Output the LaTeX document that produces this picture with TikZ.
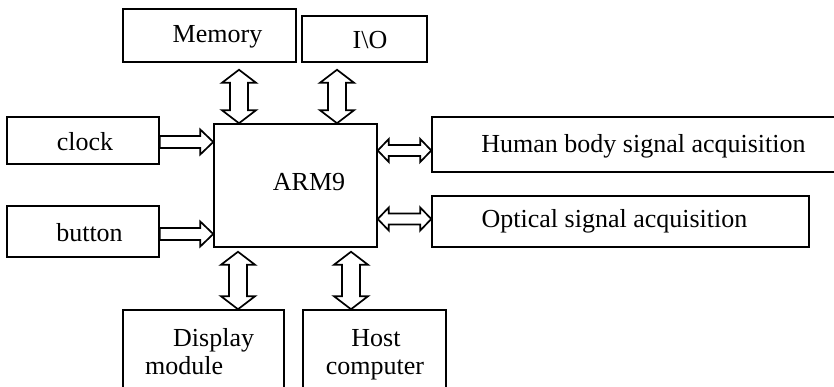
\documentclass[tikz,border=0pt]{standalone}
\usepackage{fontspec}
\setmainfont{Liberation Serif}
\usetikzlibrary{calc}
\tikzset{
  box/.style={draw, line width=1.5pt, rectangle, inner sep=0pt},
  lbl/.style={inner sep=0pt, font=\fontsize{26}{30}\selectfont},
  fat/.style={draw, line width=1.7pt, fill=white, line join=miter},
}
% vertical double arrow: #1 x, #2 top anchor, #3 bottom anchor, #4 top gap, #5 bottom gap
\newcommand\vdarrow[5]{%
  \path[fat] let \p1=(#2), \p2=(#3),
    \n1={\y1-#4pt}, \n2={\y2+#5pt} in
    (#1pt,\n1) -- (#1pt+17pt,\n1-13pt) -- (#1pt+9pt,\n1-13pt) -- (#1pt+9pt,\n2+13pt)
    -- (#1pt+17pt,\n2+13pt) -- (#1pt,\n2) -- (#1pt-17pt,\n2+13pt) -- (#1pt-9pt,\n2+13pt)
    -- (#1pt-9pt,\n1-13pt) -- (#1pt-17pt,\n1-13pt) -- cycle;}
% horizontal double arrow: #1 y, #2 left anchor, #3 right anchor
\newcommand\hdarrow[3]{%
  \path[fat] let \p1=(#2), \p2=(#3) in
    (\x1,-#1pt) -- (\x1+11pt,-#1pt+11.5pt) -- (\x1+11pt,-#1pt+5.5pt) -- (\x2-11pt,-#1pt+5.5pt)
    -- (\x2-11pt,-#1pt+11.5pt) -- (\x2,-#1pt) -- (\x2-11pt,-#1pt-11.5pt) -- (\x2-11pt,-#1pt-5.5pt)
    -- (\x1+11pt,-#1pt-5.5pt) -- (\x1+11pt,-#1pt-11.5pt) -- cycle;}
% horizontal single arrow: #1 y, #2 left anchor, #3 right anchor
\newcommand\harrow[3]{%
  \path[fat] let \p1=(#2), \p2=(#3) in
    (\x1,-#1pt+6pt) -- (\x2-13pt,-#1pt+6pt) -- (\x2-13pt,-#1pt+12.5pt) -- (\x2,-#1pt)
    -- (\x2-13pt,-#1pt-12.5pt) -- (\x2-13pt,-#1pt-6pt) -- (\x1,-#1pt-6pt) -- cycle;}
\begin{document}
\begin{tikzpicture}[x=1pt,y=1pt]
\useasboundingbox (0,0) rectangle (834,-387);
% boxes
\node[box, minimum width=173pt, minimum height=53pt] (mem) at (209.5,-35.5) {};
\node[box, minimum width=125pt, minimum height=46pt] (io) at (364.5,-39) {};
\node[box, minimum width=163pt, minimum height=123pt] (arm) at (295.5,-185.5) {};
\node[box, minimum width=152pt, minimum height=47pt] (clk) at (83,-140.5) {};
\node[box, minimum width=152pt, minimum height=51pt] (btn) at (83,-231.5) {};
\node[box, minimum width=410pt, minimum height=55pt] (hum) at (637,-144.5) {};
\node[box, minimum width=377pt, minimum height=51pt] (opt) at (620.5,-221.5) {};
\node[box, minimum width=161pt, minimum height=90pt] (disp) at (203.5,-355) {};
\node[box, minimum width=143pt, minimum height=90pt] (host) at (374.5,-355) {};
% labels
\node[lbl] (tmem) at (217.5,-37) {Memory};
\node[lbl] (tio) at (370,-40) {I\textbackslash O};
\node[lbl] (tarm) at (309,-182) {ARM9};
\node[lbl] (tclk) at (85,-142) {clock};
\node[lbl] (tbtn) at (89.5,-233) {button};
\node[lbl] (thum) at (643.5,-146) {Human body signal acquisition};
\node[lbl] (topt) at (614.5,-221) {Optical signal acquisition};
\node[lbl, anchor=base west] (tdisp1) at (173,-346) {Display};
\node[lbl, anchor=base west] (tdisp2) at (145,-374) {module};
\node[lbl, anchor=base] (thost1) at (376,-346) {Host};
\node[lbl, anchor=base] (thost2) at (375,-374) {computer};
% connectors
\vdarrow{239}{mem.south}{arm.north}{7}{0}
\vdarrow{337}{io.south}{arm.north}{7}{0}
\vdarrow{238}{arm.south}{disp.north}{4}{0}
\vdarrow{351}{arm.south}{host.north}{4}{0}
\harrow{142}{clk.east}{arm.west}
\harrow{234}{btn.east}{arm.west}
\hdarrow{150.5}{arm.east}{hum.west}
\hdarrow{219}{arm.east}{opt.west}
\end{tikzpicture}
\end{document}
